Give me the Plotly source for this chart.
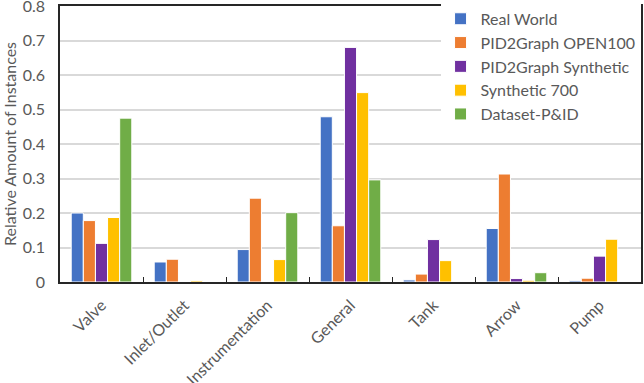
import plotly.graph_objects as go

categories = ["Valve", "Inlet/Outlet", "Instrumentation", "General", "Tank", "Arrow", "Pump"]
series_names = ["Real World", "PID2Graph OPEN100", "PID2Graph Synthetic", "Synthetic 700", "Dataset-P&ID"]
real_world = [0.200, 0.058, 0.094, 0.479, 0.006, 0.155, 0.004]
open100 = [0.178, 0.066, 0.243, 0.163, 0.023, 0.313, 0.011]
pid_synthetic = [0.112, 0.0, 0.0, 0.680, 0.123, 0.010, 0.075]
synthetic_700 = [0.187, 0.004, 0.065, 0.549, 0.062, 0.005, 0.124]
dataset_pid = [0.475, 0.0, 0.201, 0.296, 0.0, 0.027, 0.0]
colors = ["#4472C4", "#ED7D31", "#7030A0", "#FFC000", "#70AD47"]

FONT = "Lato, Open Sans, sans-serif"
GREY = "#595959"

fig = go.Figure()
for name, vals, col in zip(series_names,
                           [real_world, open100, pid_synthetic, synthetic_700, dataset_pid],
                           colors):
    fig.add_trace(go.Bar(x=categories, y=vals, name=name,
                         marker=dict(color=col, line=dict(color="white", width=1))))

fig.update_layout(
    width=644, height=383,
    barmode="group", bargap=0.27, bargroupgap=0.0,
    plot_bgcolor="white", paper_bgcolor="white",
    margin=dict(l=60, r=3, t=6, b=101, autoexpand=False),
    font=dict(family=FONT, size=16, color=GREY),
    legend=dict(x=0.655, y=1.015, xanchor="left", yanchor="top",
                bgcolor="white", font=dict(size=16, color=GREY),
                tracegroupgap=0, itemwidth=30),
    xaxis=dict(tickangle=-45, showline=True, linecolor="#262626", linewidth=1.5,
               mirror=True, ticks="inside", tickson="boundaries", ticklen=5,
               tickcolor="#262626", tickfont=dict(size=16, color=GREY),
               ticklabelstandoff=6),
    yaxis=dict(range=[0, 0.8], dtick=0.1, showline=True, linecolor="#262626",
               linewidth=1.5, mirror=True, gridcolor="#D9D9D9", gridwidth=1.5,
               title=dict(text="Relative Amount of Instances", font=dict(size=16, color=GREY),
                          standoff=2),
               tickfont=dict(size=16, color=GREY), zeroline=False,
               ticklabeloverflow="allow", ticklabelstandoff=10),
)

# drop the browser's default 8px body margin so the chart sits at the page corner
fig.write_html("out.html", config={"displayModeBar": False},
               post_script="document.body.style.margin='0';")
